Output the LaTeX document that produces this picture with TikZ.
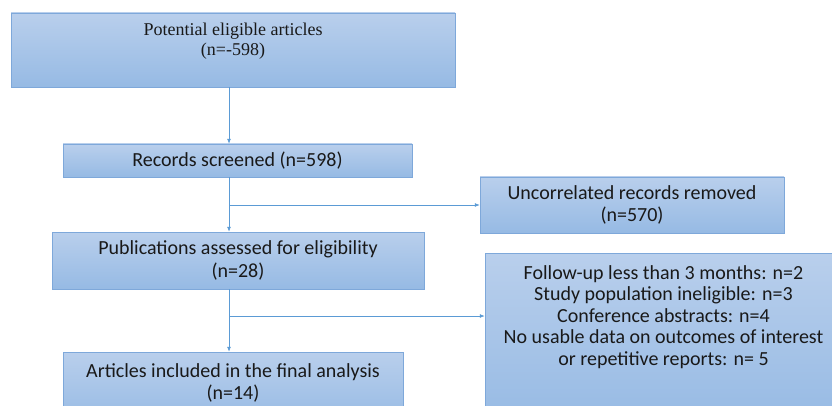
\documentclass[tikz,border=0pt]{standalone}
\usepackage{fontspec}
\setmainfont{Carlito}
\newfontfamily\timesfont{Liberation Serif}
\usetikzlibrary{arrows.meta}

\definecolor{boxtop}{RGB}{185,207,236}
\definecolor{boxbot}{RGB}{150,186,228}
\definecolor{boxline}{RGB}{126,168,218}
\definecolor{arrowblue}{RGB}{91,155,213}

\tikzstyle{block} = [rectangle, draw=boxline, top color=boxtop, bottom color=boxbot, align=center, inner sep=0pt, text=black!90, font=\fontsize{20}{22.5}\selectfont]
\tikzstyle{link} = [draw=arrowblue, line width=0.8pt, -{Latex[length=5pt,width=4pt]}]

\begin{document}
\begin{tikzpicture}[x=1pt,y=1pt]
        \useasboundingbox (0,0) rectangle (832,-406);
        % left column
        \node (pot) at (233,-50) [block, minimum width=444pt, minimum height=74pt, font=\timesfont\fontsize{18}{20}\selectfont] {Potential eligible articles\\(n=-598)\\[2pt]\mbox{}};
        \node (scr) at (237.5,-160.5) [block, minimum width=349pt, minimum height=33pt] {Records screened (n=598)};
        \node (pub) at (238,-260.5) [block, minimum width=372pt, minimum height=57pt] {Publications assessed for eligibility\\(n=28)};
        \node (inc) at (233,-388.5) [block, minimum width=340pt, minimum height=73pt] {Articles included in the final analysis\\(n=14)\\[-9pt]\mbox{}};
        % right column
        \node (rem) at (632,-205) [block, minimum width=304pt, minimum height=56pt] {Uncorrelated records removed\\(n=570)};
        \node (exc) at (663.5,-339) [block, minimum width=357pt, minimum height=172pt, font=\fontsize{20}{21.5}\selectfont] {Follow-up less than 3 months: n=2\\Study population ineligible: n=3\\Conference abstracts: n=4\\No usable data on outcomes of interest\\or repetitive reports: n= 5\\[26pt]\mbox{}};
        % connectors
        \coordinate (axis) at (229,0);
        \coordinate (br1) at (229,-205);
        \coordinate (br2) at (229,-316);
        \draw[link] (pot.south -| axis) -- (scr.north -| axis);
        \draw[link] (scr.south -| axis) -- (pub.north -| axis);
        \draw[link] (br1) -- (br1 -| rem.west);
        \draw[link] (pub.south -| axis) -- (inc.north -| axis);
        \draw[link] (br2) -- (br2 -| exc.west);
    \end{tikzpicture}
\end{document}
